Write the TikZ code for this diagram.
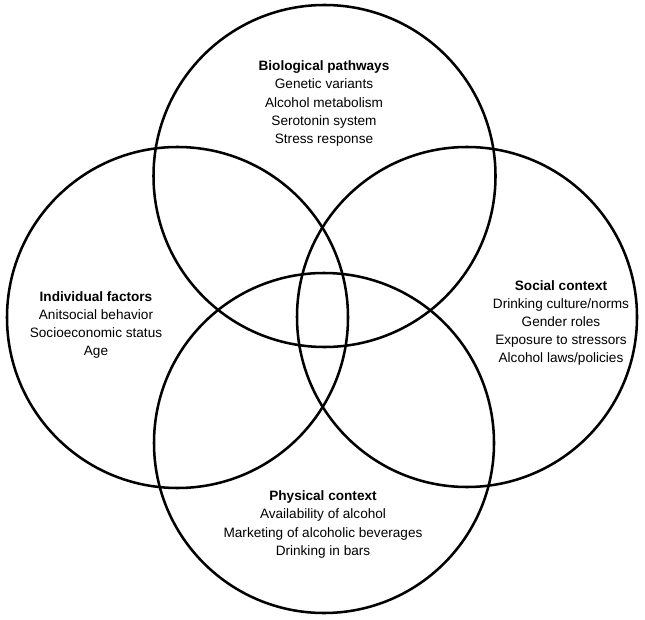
\documentclass[tikz,border=0pt]{standalone}
\usepackage{fontspec}
\setmainfont{Liberation Sans}
\begin{document}
\begin{tikzpicture}[x=0.75pt,y=-0.75pt,
  ring/.style={draw=black,line width=1.9pt},
  label/.style={align=center,font=\fontsize{10.2}{13.6}\selectfont,inner sep=0pt}]
\useasboundingbox (0,0) rectangle (645,620);
\draw[ring] (324.5,176) circle[radius=171];
\draw[ring] (177.5,317.5) circle[radius=170.5];
\draw[ring] (467,317) circle[radius=170];
\draw[ring] (324,443) circle[radius=170];
\node[label] (bio) at (324,103.5) {\textbf{Biological pathways}\\Genetic variants\\Alcohol metabolism\\Serotonin system\\Stress response};
\node[label] (ind) at (96,325) {\textbf{Individual factors}\\Anitsocial behavior\\Socioeconomic status\\Age};
\node[label] (soc) at (561,323) {\textbf{Social context}\\Drinking culture/norms\\Gender roles\\Exposure to stressors\\Alcohol laws/policies};
\node[label] (phy) at (323,524.5) {\textbf{Physical context}\\Availability of alcohol\\Marketing of alcoholic beverages\\Drinking in bars};
\end{tikzpicture}
\end{document}
